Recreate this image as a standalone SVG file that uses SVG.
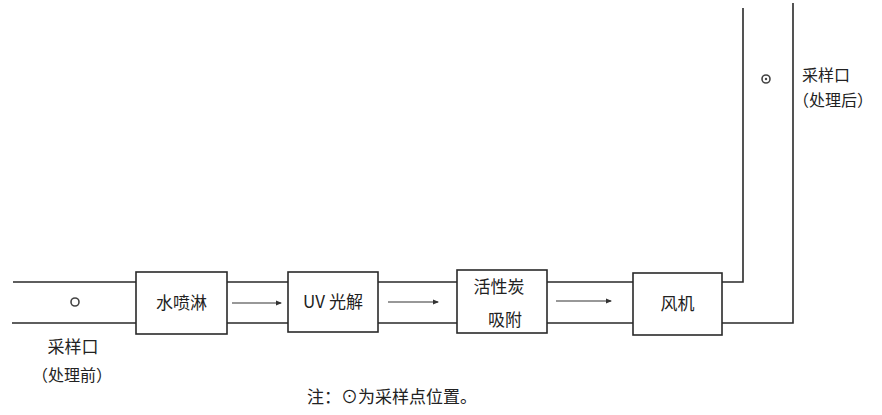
<svg xmlns="http://www.w3.org/2000/svg" width="882" height="415" viewBox="0 0 882 415">
<defs>
<style>
.pipe{fill:none;stroke:#2a2a2a;stroke-width:1.6}
.box{fill:#ffffff;stroke:#2a2a2a;stroke-width:1.6}
.arr{fill:none;stroke:#333;stroke-width:1.2}
.t{font-family:"Noto Sans CJK SC","Liberation Serif",serif;font-size:16px;fill:#222;text-anchor:middle}
.b{font-size:17px}
.n{font-size:17px}
.pt{fill:none;stroke:#444;stroke-width:1.6}
</style>
<marker id="ah" markerWidth="6" markerHeight="6" refX="5" refY="3" orient="auto" markerUnits="userSpaceOnUse">
<path d="M0,0.5 L6,3 L0,5.5 Z" fill="#333"/>
</marker>
</defs>
<rect width="882" height="415" fill="#ffffff"/>
<g id="connectors">
<path class="pipe" d="M13,282 H136 M12,323 H136"/>
<path class="pipe" d="M227,282 H288 M227,323 H288"/>
<path class="pipe" d="M378,282 H457 M378,323 H457"/>
<path class="pipe" d="M547,282 H633 M547,323 H633"/>
<path class="pipe" d="M722,282 H743 V8"/>
<path class="pipe" d="M722,323 H793 V3"/>
<line class="arr" x1="232" y1="303" x2="281" y2="303" marker-end="url(#ah)"/>
<line class="arr" x1="388" y1="302" x2="438" y2="302" marker-end="url(#ah)"/>
<line class="arr" x1="556" y1="301" x2="611" y2="301" marker-end="url(#ah)"/>
</g>
<g id="inlet">
<circle class="pt" cx="75" cy="302" r="4"/>
<text class="t b" x="73" y="353">采样口</text>
<text class="t" x="72" y="381">（处理前）</text>
</g>
<g id="n1">
<rect class="box" x="136" y="272" width="91" height="62"/>
<text class="t b" x="181.5" y="309">水喷淋</text>
</g>
<g id="n2">
<rect class="box" x="288" y="272" width="90" height="60"/>
<text class="t b" x="333" y="308">UV 光解</text>
</g>
<g id="n3">
<rect class="box" x="457" y="270" width="90" height="63"/>
<text class="t b" x="499" y="293">活性炭</text>
<text class="t b" x="505" y="326">吸附</text>
</g>
<g id="n4">
<rect class="box" x="633" y="273" width="89" height="62"/>
<text class="t b" x="677.5" y="310">风机</text>
</g>
<g id="outlet">
<circle class="pt" cx="766" cy="79" r="4"/>
<circle cx="766" cy="79" r="1.2" fill="#444"/>
<text class="t" x="826" y="81">采样口</text>
<text class="t" x="833" y="106">（处理后）</text>
</g>
<g id="note">
<text class="t n" x="392" y="403">注：⊙为采样点位置。</text>
</g>
</svg>
